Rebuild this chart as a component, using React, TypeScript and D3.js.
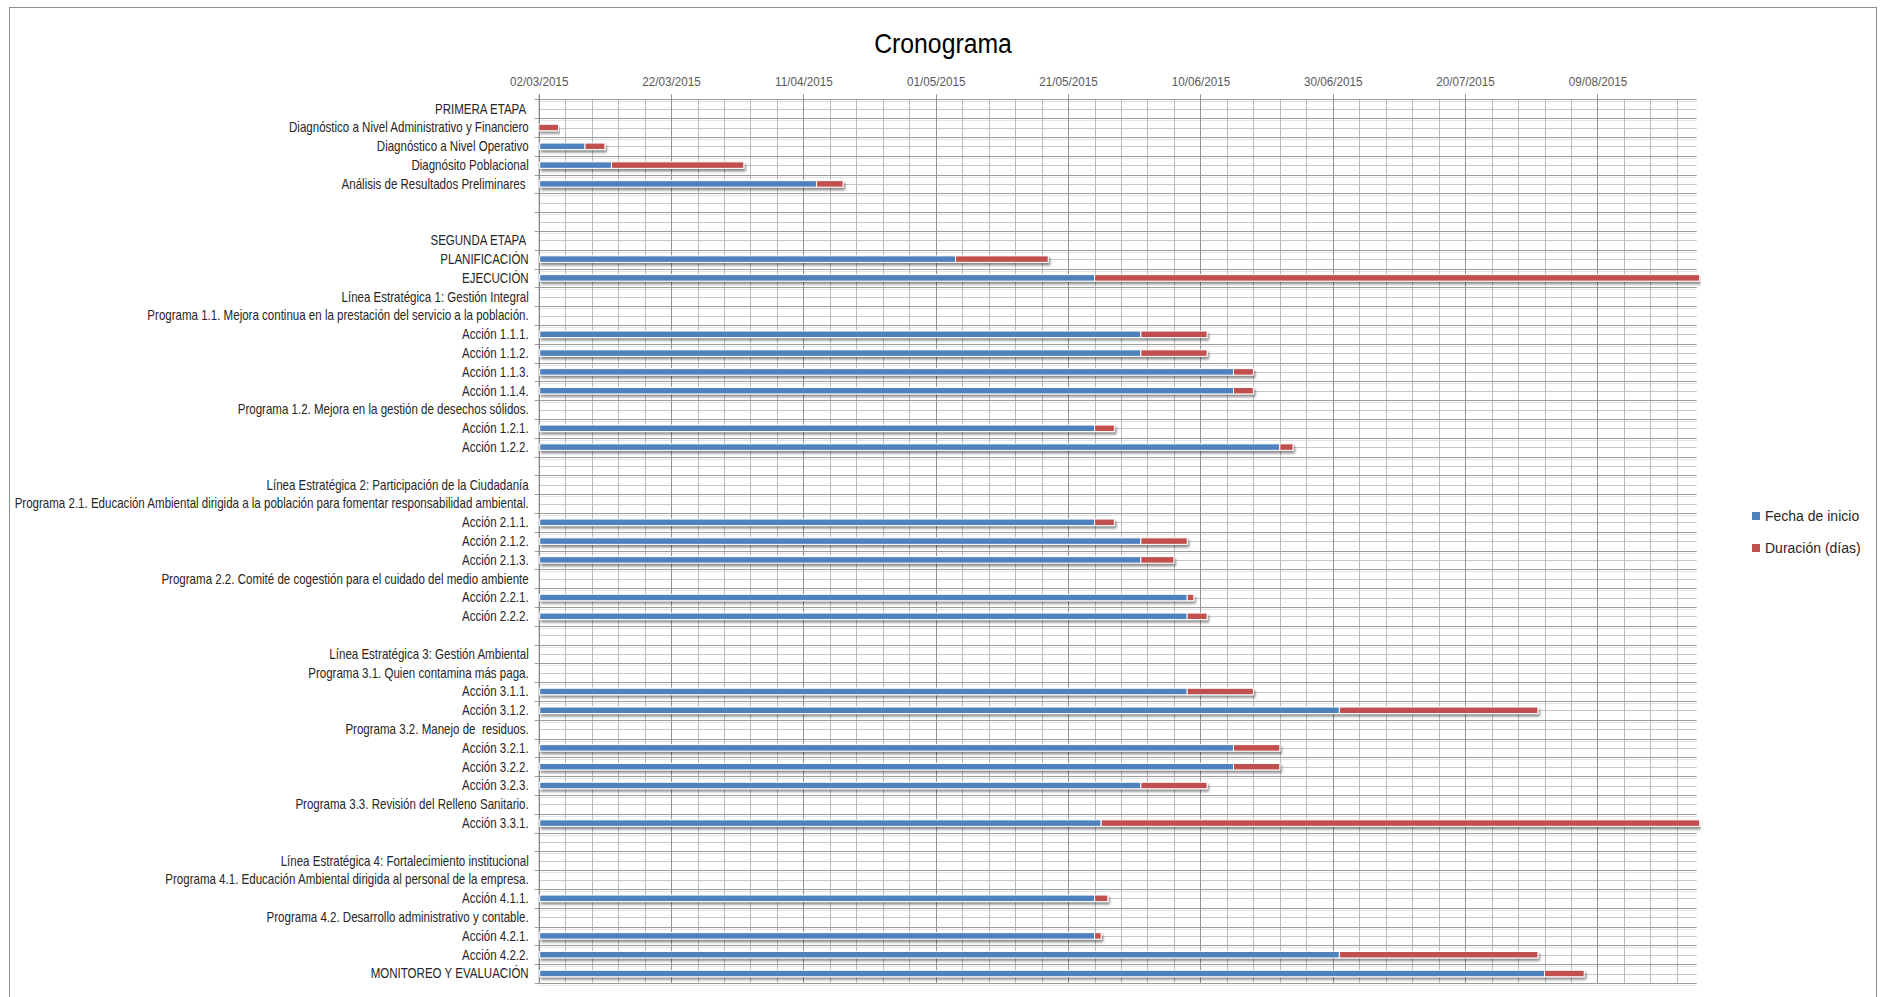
import React, { useEffect, useRef } from 'react';
import * as d3 from 'd3';

// categories of the gantt chart, top to bottom
const categories = [
  'PRIMERA ETAPA ',
  'Diagnóstico a Nivel Administrativo y Financiero',
  'Diagnóstico a Nivel Operativo',
  'Diagnósito Poblacional',
  'Análisis de Resultados Preliminares ',
  '',
  '',
  'SEGUNDA ETAPA ',
  'PLANIFICACIÓN',
  'EJECUCIÓN',
  'Línea Estratégica 1: Gestión Integral',
  'Programa 1.1. Mejora continua en la prestación del servicio a la población.',
  'Acción 1.1.1.',
  'Acción 1.1.2.',
  'Acción 1.1.3.',
  'Acción 1.1.4.',
  'Programa 1.2. Mejora en la gestión de desechos sólidos.',
  'Acción 1.2.1.',
  'Acción 1.2.2.',
  '',
  'Línea Estratégica 2: Participación de la Ciudadanía',
  'Programa 2.1. Educación Ambiental dirigida a la población para fomentar responsabilidad ambiental.',
  'Acción 2.1.1.',
  'Acción 2.1.2.',
  'Acción 2.1.3.',
  'Programa 2.2. Comité de cogestión para el cuidado del medio ambiente',
  'Acción 2.2.1.',
  'Acción 2.2.2.',
  '',
  'Línea Estratégica 3: Gestión Ambiental',
  'Programa 3.1. Quien contamina más paga.',
  'Acción 3.1.1.',
  'Acción 3.1.2.',
  'Programa 3.2. Manejo de  residuos.',
  'Acción 3.2.1.',
  'Acción 3.2.2.',
  'Acción 3.2.3.',
  'Programa 3.3. Revisión del Relleno Sanitario.',
  'Acción 3.3.1.',
  '',
  'Línea Estratégica 4: Fortalecimiento institucional',
  'Programa 4.1. Educación Ambiental dirigida al personal de la empresa.',
  'Acción 4.1.1.',
  'Programa 4.2. Desarrollo administrativo y contable.',
  'Acción 4.2.1.',
  'Acción 4.2.2.',
  'MONITOREO Y EVALUACIÓN',
];

// "Fecha de inicio" series
const startDates: (string | null)[] = [
  null, '02/03/2015', '09/03/2015', '13/03/2015', '13/04/2015', null, null,
  null, '04/05/2015', '25/05/2015', null, null,
  '01/06/2015', '01/06/2015', '15/06/2015', '15/06/2015', null,
  '25/05/2015', '22/06/2015', null,
  null, null, '25/05/2015', '01/06/2015', '01/06/2015', null,
  '08/06/2015', '08/06/2015', null,
  null, null, '08/06/2015', '01/07/2015', null,
  '15/06/2015', '15/06/2015', '01/06/2015', null, '26/05/2015', null,
  null, null, '25/05/2015', null, '25/05/2015', '01/07/2015', '01/08/2015',
];

// "Duración (días)" series
const durations: (number | null)[] = [
  null, 3, 3, 20, 4, null, null,
  null, 14, 120, null, null,
  10, 10, 3, 3, null,
  3, 2, null,
  null, null, 3, 7, 5, null,
  1, 3, null,
  null, null, 10, 30, null,
  7, 7, 10, null, 120, null,
  null, null, 2, null, 1, 30, 6,
];

const dateTicks = [
  '02/03/2015', '22/03/2015', '11/04/2015', '01/05/2015', '21/05/2015',
  '10/06/2015', '30/06/2015', '20/07/2015', '09/08/2015',
];
const axisMin = '02/03/2015';
const axisMax = '24/08/2015';

const seriesNames = ['Fecha de inicio', 'Duración (días)'];
const seriesColors = ['#4F81BD', '#C0504D'];

const W = 1883;
const H = 997;
const FONT = '"Liberation Sans", Arial, sans-serif';

const Cronograma: React.FC = () => {
  const ref = useRef<SVGSVGElement>(null);

  useEffect(() => {
    const svg = d3.select(ref.current);
    svg.selectAll('*').remove();

    const parse = d3.utcParse('%d/%m/%Y');
    const fmt = d3.utcFormat('%d/%m/%Y');
    const minDate = parse(axisMin) as Date;
    const maxDate = parse(axisMax) as Date;

    const left = 538.7;
    const right = 1696.7;
    const top = 99.3;
    const bottom = 982.9;

    const x = d3.scaleUtc().domain([minDate, maxDate]).range([left, right]);
    const y = d3
      .scaleBand<number>()
      .domain(d3.range(categories.length))
      .range([top, bottom]);
    const band = y.bandwidth();

    const defs = svg.append('defs');
    const shadow = defs.append('filter').attr('id', 'barShadow')
      .attr('x', '-5%').attr('y', '-100%').attr('width', '110%').attr('height', '300%');
    shadow.append('feDropShadow')
      .attr('dx', 1.5).attr('dy', 2.5).attr('stdDeviation', 1.3)
      .attr('flood-color', '#000').attr('flood-opacity', 0.45);
    defs.append('clipPath').attr('id', 'plotClip')
      .append('rect').attr('x', left).attr('y', top - 10)
      .attr('width', right - left + 4).attr('height', bottom - top + 20);

    // chart area
    svg.append('rect')
      .attr('x', 9.5).attr('y', 7.5)
      .attr('width', 1867).attr('height', 1005)
      .attr('fill', '#fff').attr('stroke', '#8C8C8C');

    svg.append('text')
      .attr('transform', 'translate(943,53) scale(0.9,1)')
      .attr('text-anchor', 'middle')
      .attr('font-family', FONT).attr('font-size', 27.5)
      .attr('fill', '#000')
      .text('Cronograma');

    const grid = svg.append('g');

    // horizontal lines: row centres (light) and row boundaries (darker)
    grid.selectAll('line.mid')
      .data(d3.range(categories.length))
      .join('line')
      .attr('x1', left).attr('x2', right)
      .attr('y1', (i) => Math.round((y(i) as number) + band / 2) + 0.5)
      .attr('y2', (i) => Math.round((y(i) as number) + band / 2) + 0.5)
      .attr('stroke', '#C8C8C8');
    grid.selectAll('line.shade')
      .data(d3.range(categories.length + 1))
      .join('line')
      .attr('x1', left).attr('x2', right)
      .attr('y1', (i) => Math.round(top + i * band) + 2.5)
      .attr('y2', (i) => Math.round(top + i * band) + 2.5)
      .attr('stroke', '#E3E3E3');

    // vertical minor gridlines every 4 days
    const minor = d3.utcDay.range(minDate, maxDate, 4);
    grid.selectAll('line.minor')
      .data(minor)
      .join('line')
      .attr('x1', (d) => Math.round(x(d)) + 0.5).attr('x2', (d) => Math.round(x(d)) + 0.5)
      .attr('y1', top).attr('y2', bottom)
      .attr('stroke', '#BBBBBB');

    grid.selectAll('line.bound')
      .data(d3.range(categories.length + 1))
      .join('line')
      .attr('x1', left - 4).attr('x2', right)
      .attr('y1', (i) => Math.round(top + i * band) + 0.5)
      .attr('y2', (i) => Math.round(top + i * band) + 0.5)
      .attr('stroke', '#9C9C9C');

    // major gridlines + date axis
    const ticks = dateTicks.map((t) => parse(t) as Date);
    grid.selectAll('line.major')
      .data(ticks)
      .join('line')
      .attr('x1', (d) => Math.round(x(d)) + 0.5).attr('x2', (d) => Math.round(x(d)) + 0.5)
      .attr('y1', top - 5).attr('y2', bottom)
      .attr('stroke', '#939393');

    const axis = svg.append('g')
      .attr('transform', `translate(0,${top - 5})`)
      .call(d3.axisTop(x).tickValues(ticks).tickFormat((d) => fmt(d as Date)).tickSize(0).tickPadding(8));
    axis.select('.domain').remove();
    axis.selectAll('text')
      .attr('transform', 'scale(0.86,1)')
      .attr('font-family', FONT).attr('font-size', 13.6)
      .attr('fill', '#595959');

    // category axis line
    svg.append('line')
      .attr('x1', left + 0.5).attr('x2', left + 0.5)
      .attr('y1', top - 5).attr('y2', bottom)
      .attr('stroke', '#868686');

    // category labels
    svg.append('g')
      .selectAll('text')
      .data(categories)
      .join('text')
      .attr('transform', (_, i) => `translate(${left - 10},${(y(i) as number) + band / 2 + 4.8}) scale(0.83,1)`)
      .attr('text-anchor', 'end')
      .attr('font-family', FONT).attr('font-size', 13.9)
      .attr('fill', '#262626')
      .style('white-space', 'pre')
      .text((d) => d);

    // bars
    const rows = categories
      .map((c, i) => ({ i, start: startDates[i], dur: durations[i] }))
      .filter((r) => r.start !== null && r.dur !== null)
      .map((r) => {
        const s = parse(r.start as string) as Date;
        return { i: r.i, s, e: d3.utcDay.offset(s, r.dur as number) };
      });
    const barH = 6.5;
    const bars = svg.append('g').attr('clip-path', 'url(#plotClip)');
    const bar = bars.selectAll('g').data(rows).join('g')
      .attr('filter', 'url(#barShadow)');
    bar.filter((d) => x(d.s) > left)
      .append('rect')
      .attr('x', left + 1)
      .attr('y', (d) => (y(d.i) as number) + band / 2 - barH / 2)
      .attr('width', (d) => x(d.s) - left - 1)
      .attr('height', barH)
      .attr('fill', seriesColors[0])
      .attr('stroke', '#fff').attr('stroke-width', 1);
    bar.append('rect')
      .attr('x', (d) => x(d.s))
      .attr('y', (d) => (y(d.i) as number) + band / 2 - barH / 2)
      .attr('width', (d) => Math.min(x(d.e), right + 3) - x(d.s))
      .attr('height', barH)
      .attr('fill', seriesColors[1])
      .attr('stroke', '#fff').attr('stroke-width', 1);

    // legend
    const legend = svg.append('g').selectAll('g').data(seriesNames).join('g')
      .attr('transform', (_, i) => `translate(1752,${516 + i * 32})`);
    legend.append('rect')
      .attr('x', 0).attr('y', -4).attr('width', 8).attr('height', 8)
      .attr('fill', (_, i) => seriesColors[i]);
    legend.append('text')
      .attr('x', 13).attr('y', 5)
      .attr('font-family', FONT).attr('font-size', 14)
      .attr('fill', '#262626')
      .text((d) => d);
  }, []);

  return (
    <svg
      ref={ref}
      width={W}
      height={H}
      style={{ position: 'absolute', left: 0, top: 0, display: 'block', background: '#fff' }}
    />
  );
};

export default function App() {
  return <Cronograma />;
}
